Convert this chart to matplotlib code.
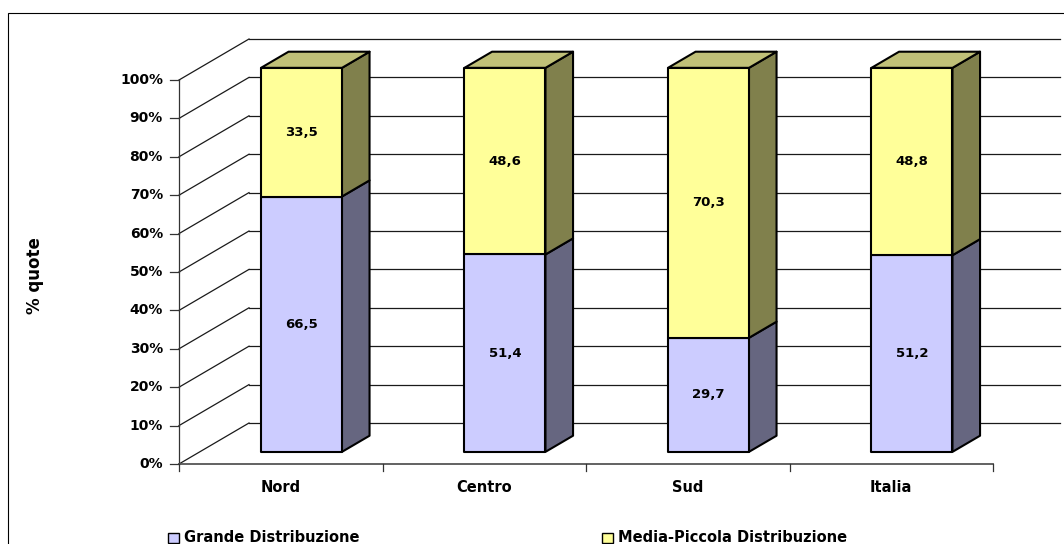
import matplotlib.pyplot as plt
from matplotlib.patches import Polygon, Rectangle

categories = ['Nord', 'Centro', 'Sud', 'Italia']
grande = [66.5, 51.4, 29.7, 51.2]
media_piccola = [33.5, 48.6, 70.3, 48.8]
series_names = ['Grande Distribuzione', 'Media-Piccola Distribuzione']
y_ticks = [0, 10, 20, 30, 40, 50, 60, 70, 80, 90, 100]
y_tick_labels = ['%d%%' % t for t in y_ticks]

# colours: front face, side face, top face
colors = {
    'grande': ('#CCCCFF', '#666680', '#9999C0'),
    'media': ('#FFFF99', '#80804C', '#C0C078'),
}

# pixel geometry of the oblique projection
W, H = 1064, 544
X0, Y0 = 179, 464          # front-plane origin (px)
CAT_PX = 203.5             # px per category
PCT_PX = 3.84              # px per percent
DX = 70 / CAT_PX           # full depth, x (category units)
DY = 41 / PCT_PX           # full depth, y (percent units)
Z0, Z1 = 0.296, 0.69       # bar front/back depth fraction
HALF = 0.199               # half bar width

fig = plt.figure(figsize=(W / 100, H / 100), dpi=100)
ax = fig.add_axes([0, 0, 1, 1])
ax.set_xlim(-X0 / CAT_PX, (W - X0) / CAT_PX)
ax.set_ylim((Y0 - H) / PCT_PX, Y0 / PCT_PX)
ax.axis('off')

font = dict(family='DejaVu Sans', fontweight='bold')
grid_kw = dict(color='#1a1a1a', lw=0.9, zorder=1)

# side wall and back wall gridlines
for t in y_ticks:
    ax.plot([0, DX], [t, t + DY], **grid_kw)
    ax.plot([DX, len(categories) + DX - 3 / CAT_PX], [t + DY, t + DY], **grid_kw)

# front axes
ax.plot([0, 0], [0, 100], color='#333333', lw=0.9, zorder=2)
ax.plot([0, len(categories)], [0, 0], color='#555555', lw=1.3, zorder=2)
for t, lab in zip(y_ticks, y_tick_labels):
    ax.plot([-9 / CAT_PX, 0], [t, t], color='#333333', lw=0.9, zorder=2)
    ax.text(-16 / CAT_PX, t, lab, ha='right', va='center', fontsize=10, **font)
for i in range(len(categories) + 1):
    ax.plot([i, i], [0, -7 / PCT_PX], color='#333333', lw=0.9, zorder=2)
for i, cat in enumerate(categories):
    ax.text(i + 0.5, -24 / PCT_PX, cat, ha='center', va='center', fontsize=10.5, **font)


def box(c, lo, hi, cols, top):
    xl = c - HALF + Z0 * DX
    xr = c + HALF + Z0 * DX
    dx = (Z1 - Z0) * DX
    dy = (Z1 - Z0) * DY
    b = lo + Z0 * DY
    t = hi + Z0 * DY
    kw = dict(edgecolor='black', lw=1.5, joinstyle='round', zorder=3)
    ax.add_patch(Polygon([(xr, b), (xr + dx, b + dy), (xr + dx, t + dy), (xr, t)],
                         facecolor=cols[1], **kw))
    if top:
        ax.add_patch(Polygon([(xl, t), (xl + dx, t + dy), (xr + dx, t + dy), (xr, t)],
                             facecolor=cols[2], **kw))
    ax.add_patch(Polygon([(xl, b), (xr, b), (xr, t), (xl, t)],
                         facecolor=cols[0], **kw))
    ax.text((xl + xr) / 2, (b + t) / 2, ('%.1f' % (hi - lo)).replace('.', ','),
            ha='center', va='center', fontsize=9.5, zorder=4, **font)


for i in range(len(categories)):
    c = i + 0.5
    box(c, 0, grande[i], colors['grande'], False)
    box(c, grande[i], grande[i] + media_piccola[i], colors['media'], True)

# y axis title
ax.text(-144 / CAT_PX, (Y0 - 276) / PCT_PX, '% quote', rotation=90,
        ha='center', va='center', fontsize=12, **font)

# legend
leg_y = (Y0 - 538) / PCT_PX
for x_px, name, key in [(168, series_names[0], 'grande'), (602, series_names[1], 'media')]:
    ax.add_patch(Rectangle(((x_px - X0) / CAT_PX, leg_y - 5 / PCT_PX), 11 / CAT_PX, 10 / PCT_PX,
                           facecolor=colors[key][0], edgecolor='black', lw=1.0, zorder=3))
    ax.text((x_px + 16 - X0) / CAT_PX, leg_y, name, ha='left', va='center', fontsize=10.5, **font)

# chart border
fig.patches.append(Rectangle((8 / W, -0.1), 1.2, (H - 13) / H + 0.1, fill=False,
                             edgecolor='black', lw=0.8, transform=fig.transFigure))

fig.savefig('out.png', dpi=100)
